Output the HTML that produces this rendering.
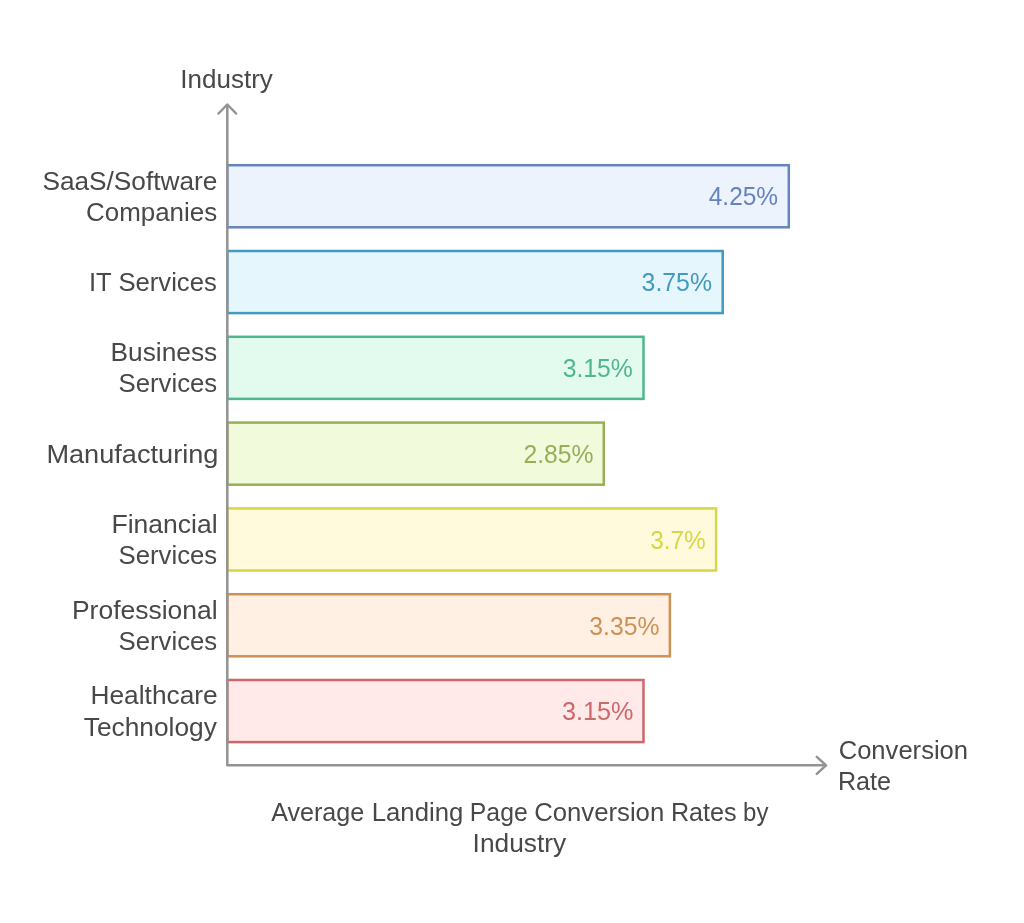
<!DOCTYPE html>
<html lang="en">
<head>
<meta charset="utf-8">
<title>Average Landing Page Conversion Rates by Industry</title>
<style>
html,body{margin:0;padding:0;background:#ffffff;}
body{width:1024px;height:923px;overflow:hidden;}
svg{display:block;}
text{font-family:"Liberation Sans",sans-serif;font-size:26px;}
</style>
</head>
<body>
<svg width="1024" height="923" viewBox="0 0 1024 923">
<rect x="0" y="0" width="1024" height="923" fill="#ffffff"/>
<rect x="227.3" y="165.2" width="561.5" height="62.1" fill="#edf3fd" stroke="#6484bd" stroke-width="2.5"/>
<rect x="227.3" y="251.0" width="495.4" height="62.1" fill="#e6f6fd" stroke="#429abf" stroke-width="2.5"/>
<rect x="227.3" y="336.8" width="416.2" height="62.1" fill="#e3fbef" stroke="#4fb690" stroke-width="2.5"/>
<rect x="227.3" y="422.6" width="376.5" height="62.1" fill="#f1fbdc" stroke="#98af57" stroke-width="2.5"/>
<rect x="227.3" y="508.4" width="488.8" height="62.1" fill="#fffadc" stroke="#d7d646" stroke-width="2.5"/>
<rect x="227.3" y="594.2" width="442.6" height="62.1" fill="#fff0e3" stroke="#cd9153" stroke-width="2.5"/>
<rect x="227.3" y="680.0" width="416.2" height="62.1" fill="#ffe9e9" stroke="#cc686a" stroke-width="2.5"/>
<path d="M227.3 104.5 V765.3 H825.6" fill="none" stroke="#939393" stroke-width="2.5" stroke-linejoin="round"/>
<path d="M218.5 113.5 L227.3 104.5 L236.1 113.5" fill="none" stroke="#939393" stroke-width="2.5" stroke-linecap="round" stroke-linejoin="round"/>
<path d="M816.8 756.8 L826 765.3 L816.8 773.8" fill="none" stroke="#939393" stroke-width="2.5" stroke-linecap="round" stroke-linejoin="round"/>
<text x="708.76" y="205.4" textLength="69.33" lengthAdjust="spacingAndGlyphs" fill="#6484bd">4.25%</text>
<text x="641.56" y="291.2" textLength="70.51" lengthAdjust="spacingAndGlyphs" fill="#429abf">3.75%</text>
<text x="562.76" y="377.0" textLength="70.11" lengthAdjust="spacingAndGlyphs" fill="#4fb690">3.15%</text>
<text x="523.51" y="462.8" textLength="70.11" lengthAdjust="spacingAndGlyphs" fill="#98af57">2.85%</text>
<text x="650.15" y="548.7" textLength="55.58" lengthAdjust="spacingAndGlyphs" fill="#d7d646">3.7%</text>
<text x="589.37" y="634.5" textLength="70.08" lengthAdjust="spacingAndGlyphs" fill="#cd9153">3.35%</text>
<text x="562.11" y="720.2" textLength="71.36" lengthAdjust="spacingAndGlyphs" fill="#cc686a">3.15%</text>
<text x="42.42" y="189.7" textLength="174.88" lengthAdjust="spacingAndGlyphs" fill="#484848">SaaS/Software</text>
<text x="86.03" y="220.8" textLength="131.19" lengthAdjust="spacingAndGlyphs" fill="#484848">Companies</text>
<text x="88.99" y="291.2" textLength="127.74" lengthAdjust="spacingAndGlyphs" fill="#484848">IT Services</text>
<text x="110.55" y="361.2" textLength="106.70" lengthAdjust="spacingAndGlyphs" fill="#484848">Business</text>
<text x="118.56" y="392.3" textLength="98.67" lengthAdjust="spacingAndGlyphs" fill="#484848">Services</text>
<text x="46.41" y="462.8" textLength="172.00" lengthAdjust="spacingAndGlyphs" fill="#484848">Manufacturing</text>
<text x="111.49" y="532.9" textLength="106.19" lengthAdjust="spacingAndGlyphs" fill="#484848">Financial</text>
<text x="118.56" y="564.0" textLength="98.67" lengthAdjust="spacingAndGlyphs" fill="#484848">Services</text>
<text x="71.94" y="618.6" textLength="145.71" lengthAdjust="spacingAndGlyphs" fill="#484848">Professional</text>
<text x="118.56" y="649.8" textLength="98.67" lengthAdjust="spacingAndGlyphs" fill="#484848">Services</text>
<text x="90.53" y="704.4" textLength="127.12" lengthAdjust="spacingAndGlyphs" fill="#484848">Healthcare</text>
<text x="83.74" y="735.5" textLength="133.06" lengthAdjust="spacingAndGlyphs" fill="#484848">Technology</text>
<text x="180.31" y="88.0" textLength="92.51" lengthAdjust="spacingAndGlyphs" fill="#484848">Industry</text>
<text x="838.67" y="758.8" textLength="129.42" lengthAdjust="spacingAndGlyphs" fill="#484848">Conversion</text>
<text x="837.98" y="789.8" textLength="53.06" lengthAdjust="spacingAndGlyphs" fill="#484848">Rate</text>
<text y="821.2" fill="#484848"><tspan x="271.19" textLength="93.02" lengthAdjust="spacingAndGlyphs">Average</tspan> <tspan x="371.71" textLength="91.57" lengthAdjust="spacingAndGlyphs">Landing</tspan> <tspan x="469.87" textLength="57.83" lengthAdjust="spacingAndGlyphs">Page</tspan> <tspan x="534.16" textLength="130.07" lengthAdjust="spacingAndGlyphs">Conversion</tspan> <tspan x="670.90" textLength="65.74" lengthAdjust="spacingAndGlyphs">Rates</tspan> <tspan x="743.12" textLength="25.33" lengthAdjust="spacingAndGlyphs">by</tspan></text>
<text x="472.64" y="852.3" textLength="93.57" lengthAdjust="spacingAndGlyphs" fill="#484848">Industry</text>
</svg>
</body>
</html>
